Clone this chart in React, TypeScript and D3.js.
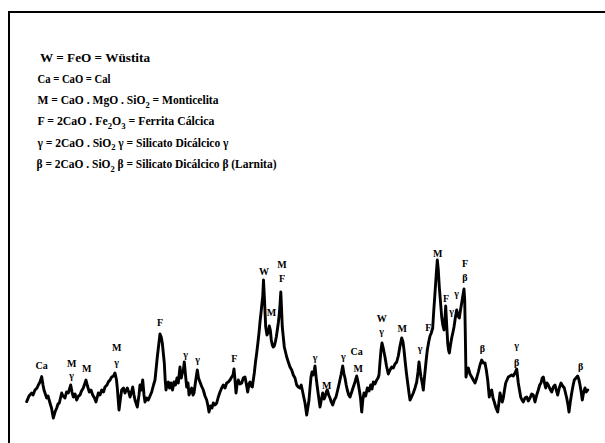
import React from "react";
import * as d3 from "d3";

// 2θ (degrees) of each sampled point of the diffractogram
const twoTheta: number[] = [
  5.17, 5.4, 5.67, 5.8, 6.0, 6.2, 6.33, 6.5, 6.67, 6.8, 6.9, 7.17, 7.3, 7.5, 7.65, 7.83, 8.0, 8.17, 8.3, 8.43,
  8.67, 8.8, 9.0, 9.15, 9.33, 9.57, 9.7, 9.83, 10.0, 10.17, 10.35, 10.5, 10.65, 10.83, 11.1, 11.25, 11.43, 11.6, 11.77, 11.95,
  12.1, 12.33, 12.5, 12.67, 12.85, 13.0, 13.2, 13.33, 13.5, 13.67, 13.85, 14.0, 14.15, 14.23, 14.4, 14.55, 14.67, 14.85, 15.0, 15.23,
  15.37, 15.5, 15.65, 15.77, 15.9, 16.0, 16.23, 16.4, 16.5, 16.63, 16.77, 16.9, 17.0, 17.17, 17.33, 17.5, 17.67, 17.85, 18.0, 18.13,
  18.23, 18.37, 18.5, 18.62, 18.73, 18.83, 18.93, 19.02, 19.1, 19.22, 19.33, 19.45, 19.6, 19.75, 19.9, 20.05, 20.2, 20.33, 20.5, 20.63,
  20.73, 20.83, 20.93, 21.05, 21.17, 21.3, 21.4, 21.53, 21.67, 21.8, 21.9, 22.05, 22.23, 22.35, 22.5, 22.65, 22.83, 23.0, 23.17, 23.3,
  23.4, 23.55, 23.7, 23.83, 24.0, 24.17, 24.33, 24.5, 24.67, 24.83, 25.0, 25.17, 25.33, 25.5, 25.67, 25.8, 25.9, 26.0, 26.1, 26.2,
  26.33, 26.5, 26.67, 26.83, 27.0, 27.15, 27.27, 27.4, 27.5, 27.62, 27.73, 27.83, 27.93, 28.05, 28.17, 28.3, 28.4, 28.5, 28.6, 28.7,
  28.77, 28.85, 28.95, 29.07, 29.2, 29.33, 29.43, 29.53, 29.63, 29.73, 29.83, 29.93, 30.03, 30.13, 30.23, 30.33, 30.42, 30.5, 30.58, 30.66,
  30.73, 30.83, 30.93, 31.05, 31.17, 31.33, 31.5, 31.67, 31.83, 32.0, 32.17, 32.33, 32.5, 32.62, 32.73, 32.85, 33.0, 33.1, 33.17, 33.28,
  33.4, 33.5, 33.6, 33.7, 33.8, 33.93, 34.0, 34.12, 34.23, 34.35, 34.5, 34.63, 34.77, 34.9, 35.0, 35.13, 35.23, 35.37, 35.5, 35.63,
  35.77, 35.93, 36.1, 36.27, 36.43, 36.6, 36.77, 36.9, 37.0, 37.12, 37.23, 37.37, 37.5, 37.67, 37.83, 38.0, 38.17, 38.3, 38.43, 38.55,
  38.67, 38.78, 38.9, 39.07, 39.23, 39.4, 39.57, 39.7, 39.83, 40.0, 40.17, 40.3, 40.4, 40.5, 40.6, 40.7, 40.8, 40.9, 41.0, 41.15,
  41.33, 41.5, 41.67, 41.83, 42.0, 42.17, 42.33, 42.5, 42.67, 42.8, 42.9, 43.0, 43.13, 43.27, 43.4, 43.5, 43.65, 43.83, 44.0, 44.17,
  44.3, 44.4, 44.5, 44.6, 44.72, 44.83, 44.92, 45.0, 45.12, 45.23, 45.37, 45.5, 45.63, 45.77, 45.88, 46.0, 46.12, 46.23, 46.33, 46.43,
  46.55, 46.67, 46.78, 46.9, 47.0, 47.07, 47.17, 47.27, 47.35, 47.43, 47.55, 47.67, 47.8, 47.9, 48.03, 48.17, 48.3, 48.43, 48.55, 48.67,
  48.78, 48.9, 48.97, 49.03, 49.1, 49.22, 49.33, 49.5, 49.67, 49.83, 50.0, 50.17, 50.33, 50.5, 50.67, 50.83, 51.0, 51.13, 51.27, 51.43,
  51.55, 51.67, 51.8, 51.93, 52.1, 52.27, 52.4, 52.5, 52.6, 52.72, 52.83, 52.95, 53.07, 53.2, 53.33, 53.5, 53.67, 53.83, 54.0, 54.17,
  54.25, 54.33, 54.45, 54.57, 54.7, 54.83, 55.0, 55.17, 55.33, 55.5, 55.67, 55.83, 56.0, 56.17, 56.33, 56.47, 56.6, 56.72, 56.83, 56.95,
  57.07, 57.2, 57.33, 57.5, 57.67, 57.83, 58.0, 58.13, 58.27, 58.43, 58.6, 58.77, 58.93, 59.05, 59.17, 59.3, 59.4, 59.53, 59.67, 59.8,
  59.93, 60.1, 60.27, 60.4, 60.5, 60.62, 60.73, 60.85, 61.0, 61.13, 61.27,
];

// intensity (counts) at each point
const intensity: number[] = [
  142, 170, 185, 175, 200, 210, 225, 240, 267, 225, 200, 160, 170, 135, 110, 60, 90, 110, 130, 135,
  185, 170, 160, 190, 185, 225, 190, 165, 180, 150, 170, 175, 195, 210, 250, 220, 190, 200, 175, 160,
  140, 185, 175, 200, 190, 215, 225, 240, 250, 265, 270, 285, 250, 210, 100, 160, 200, 210, 185, 210,
  190, 165, 190, 215, 175, 150, 115, 175, 225, 200, 250, 175, 140, 160, 150, 170, 190, 225, 250, 315,
  365, 425, 480, 465, 435, 385, 335, 250, 200, 230, 240, 210, 235, 200, 240, 225, 260, 235, 315, 260,
  285, 295, 340, 275, 215, 235, 175, 190, 210, 175, 185, 240, 300, 260, 240, 220, 200, 170, 150, 120,
  90, 120, 110, 135, 125, 135, 165, 190, 210, 225, 210, 235, 240, 250, 265, 275, 305, 250, 185, 225,
  250, 230, 235, 260, 265, 225, 190, 230, 240, 220, 215, 250, 285, 340, 385, 440, 485, 540, 585, 635,
  665, 750, 650, 515, 475, 490, 520, 500, 450, 425, 415, 420, 440, 465, 500, 535, 575, 625, 690, 600,
  515, 465, 415, 390, 365, 340, 315, 300, 275, 260, 225, 215, 210, 225, 200, 170, 135, 100, 75, 110,
  150, 210, 265, 290, 275, 300, 320, 260, 215, 170, 115, 150, 185, 155, 165, 190, 200, 175, 160, 140,
  125, 150, 165, 200, 235, 275, 320, 280, 260, 225, 200, 175, 165, 190, 215, 240, 270, 240, 200, 160,
  90, 150, 185, 170, 210, 195, 225, 205, 240, 230, 250, 260, 275, 340, 400, 435, 415, 390, 365, 320,
  280, 300, 315, 310, 330, 340, 370, 420, 460, 440, 400, 350, 290, 235, 185, 150, 165, 185, 210, 240,
  290, 340, 300, 265, 235, 200, 250, 290, 350, 400, 440, 470, 485, 510, 600, 685, 775, 850, 800, 715,
  640, 565, 525, 500, 560, 620, 525, 435, 400, 385, 425, 460, 490, 515, 560, 600, 570, 560, 600, 635,
  670, 705, 650, 485, 265, 300, 310, 280, 265, 250, 235, 260, 290, 325, 350, 335, 335, 300, 250, 165,
  190, 200, 160, 140, 110, 90, 140, 185, 165, 140, 160, 200, 235, 250, 265, 270, 275, 270, 285, 305,
  270, 235, 200, 165, 150, 140, 160, 165, 145, 160, 180, 175, 140, 175, 200, 225, 235, 260, 265, 235,
  210, 235, 225, 205, 190, 215, 225, 200, 175, 210, 235, 220, 210, 185, 160, 125, 90, 140, 185, 220,
  250, 260, 270, 250, 225, 190, 150, 185, 210, 190, 200,
];

// phase labels placed over the peaks (text, 2θ, intensity of label baseline)
const peakText: string[] = [
  "Ca", "M", "γ", "M", "M", "γ", "F", "γ", "γ", "F", "W", "M", "F", "M",
  "γ", "M", "γ", "Ca", "M", "W", "γ", "M", "γ", "F", "M", "F", "γ", "γ", "F", "β", "β", "γ", "β", "β",
];
const peakTheta: number[] = [
  6.67, 9.67, 9.67, 11.17, 14.17, 14.17, 18.5, 21.07, 22.27, 25.93, 28.9, 30.7, 30.7, 29.65,
  34.0, 35.17, 36.83, 38.17, 38.33, 40.67, 40.67, 42.73, 44.5, 45.33, 46.28, 47.1, 47.67, 48.17, 49.0, 49.0, 50.73, 54.17, 54.17, 60.57,
];
const peakLevel: number[] = [
  305, 315, 255, 290, 395, 320, 520, 360, 335, 340, 775, 810, 740, 570,
  345, 205, 350, 375, 290, 540, 475, 490, 390, 495, 865, 640, 575, 665, 815, 745, 390, 405, 320, 300,
];

// legend lines ("_" marks the next character as a subscript)
const legendLines: string[] = [
  "W = FeO = Wüstita",
  "Ca = CaO = Cal",
  "M = CaO . MgO . SiO_2 = Monticelita",
  "F = 2CaO . Fe_2O_3 = Ferrita Cálcica",
  "γ = 2CaO . SiO_2 γ = Silicato Dicálcico γ",
  "β = 2CaO . SiO_2 β = Silicato Dicálcico β  (Larnita)",
];
const legendWidths: number[] = [110, 73, 181, 177, 191, 240];

const W = 605;
const H = 443;

function parseLine(s: string) {
  const parts: { t: string; sub: boolean }[] = [];
  let buf = "";
  for (let i = 0; i < s.length; i++) {
    if (s[i] === "_" && i + 1 < s.length) {
      if (buf) parts.push({ t: buf, sub: false });
      buf = "";
      parts.push({ t: s[i + 1], sub: true });
      i++;
    } else buf += s[i];
  }
  if (buf) parts.push({ t: buf, sub: false });
  return parts;
}

export default function App() {
  const x = d3.scaleLinear().domain([5, 61.5]).range([25, 590]);
  const y = d3.scaleLinear().domain([0, 2090]).range([430, 12]);
  const pts = twoTheta.map((t, i) => [t, intensity[i]] as [number, number]);
  const line = d3
    .line<[number, number]>()
    .x((d) => x(d[0]))
    .y((d) => y(d[1]))
    .curve(d3.curveLinear);

  const legendX = [40, 37.5, 37.5, 37.5, 37.5, 36.5];
  const legendY = [61.5, 83, 104, 125, 146.5, 168];

  return (
    <svg
      width={W}
      height={H}
      style={{ position: "absolute", left: 0, top: 0, background: "#fff" }}
      fontFamily="'Liberation Serif', 'Times New Roman', serif"
    >
      <rect x={0} y={0} width={W} height={H} fill="#fff" />
      <path d={`M9,${H} L9,12 L${W},12`} fill="none" stroke="#000" strokeWidth={2} />
      {legendLines.map((ln, i) => {
        const parts = parseLine(ln);
        let afterSub = false;
        return (
          <text
            key={i}
            x={legendX[i]}
            y={legendY[i]}
            fontSize={11.5}
            fontWeight="bold"
            textLength={legendWidths[i]}
            lengthAdjust="spacingAndGlyphs"
          >
            {parts.map((p, j) => {
              let dy = 0;
              if (p.sub) {
                dy = afterSub ? 0 : 3.5;
                afterSub = true;
              } else if (afterSub) {
                dy = -3.5;
                afterSub = false;
              }
              return (
                <tspan key={j} dy={dy} fontSize={p.sub ? 8.5 : 11.5}>
                  {p.t}
                </tspan>
              );
            })}
          </text>
        );
      })}
      <path
        d={line(pts) || ""}
        fill="none"
        stroke="#000"
        strokeWidth={2.9}
        strokeLinejoin="round"
        strokeLinecap="round"
      />
      {peakText.map((t, i) => (
        <text
          key={i}
          x={x(peakTheta[i])}
          y={y(peakLevel[i])}
          fontSize={10}
          fontWeight="bold"
          textAnchor="middle"
        >
          {t}
        </text>
      ))}
    </svg>
  );
}
